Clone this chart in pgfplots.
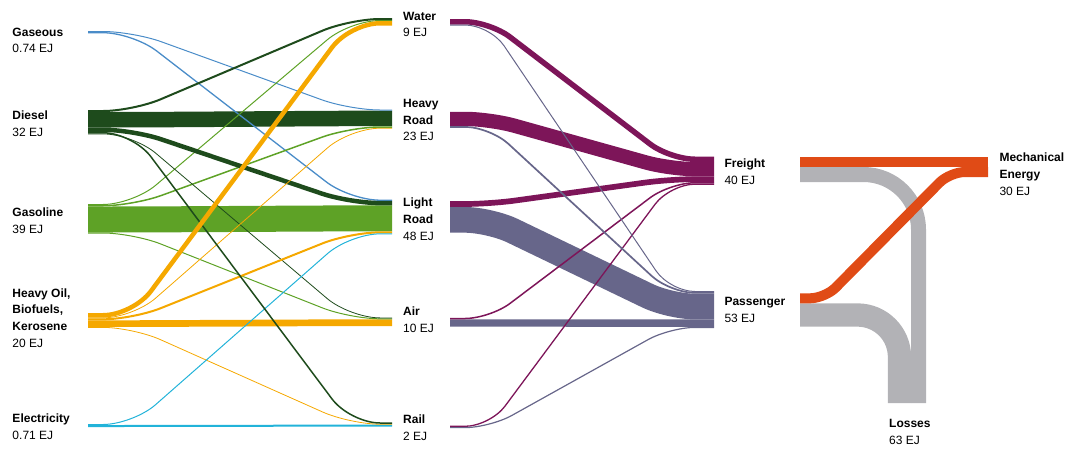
\documentclass[border=0pt]{standalone}
\usepackage{pgfplots}
\pgfplotsset{compat=1.18}
\usepackage{fontspec}
\setmainfont{Liberation Sans}

\definecolor{gasc}{HTML}{4A8CC8}
\definecolor{diec}{HTML}{1E4B1C}
\definecolor{petc}{HTML}{5EA226}
\definecolor{oilc}{HTML}{F5A800}
\definecolor{elec}{HTML}{22B3D9}
\definecolor{frc}{HTML}{7D1559}
\definecolor{pac}{HTML}{67668A}
\definecolor{mec}{HTML}{E04B16}
\definecolor{losc}{HTML}{B2B2B6}

\tikzset{
  flow/.style={line join=round, rounded corners=30pt},
  lab/.style={font=\fontsize{12}{16.8}\selectfont, inner sep=0pt, anchor=base west},
}

\begin{document}
\begin{tikzpicture}
\begin{axis}[
  scale only axis, width=1071pt, height=448pt,
  xmin=0, xmax=1071, ymin=0, ymax=448, y dir=reverse,
  hide axis, clip=false, no markers,
]
% --- fuels -> modes (x 88 -> 392), big straight bands first
\addplot[flow, draw=diec, line width=15.5pt] coordinates {(88,119.75) (133,119.75) (350,118.4) (392,118.4)};
\addplot[flow, draw=petc, line width=26pt] coordinates {(88,219.5) (133,219.5) (350,218.35) (392,218.35)};
\addplot[flow, draw=oilc, line width=6.7pt] coordinates {(88,323.65) (133,323.65) (350,322.65) (392,322.65)};
\addplot[flow, draw=elec, line width=2pt] coordinates {(88,426) (133,426) (350,425.6) (392,425.6)};
% gaseous
\addplot[flow, draw=gasc, line width=1pt] coordinates {(88,31.5) (133,31.5) (350,110) (392,110)};
\addplot[flow, draw=gasc, line width=1.3pt] coordinates {(88,32.7) (133,32.7) (350,200.2) (392,200.2)};
% gasoline
\addplot[flow, draw=petc, line width=1pt] coordinates {(88,204.5) (133,204.5) (350,20.5) (392,20.5)};
\addplot[flow, draw=petc, line width=1.5pt] coordinates {(88,205.75) (133,205.75) (350,127) (392,127)};
\addplot[flow, draw=petc, line width=1pt] coordinates {(88,233) (133,233) (350,318.8) (392,318.8)};
% diesel
\addplot[flow, draw=diec, line width=2pt] coordinates {(88,111) (133,111) (350,19) (392,19)};
\addplot[flow, draw=diec, line width=4.5pt] coordinates {(88,129.75) (133,129.75) (350,203.1) (392,203.1)};
\addplot[flow, draw=diec, line width=0.8pt] coordinates {(88,133.9) (133,133.9) (350,317.9) (392,317.9)};
% heavy oil, biofuels, kerosene
\addplot[flow, draw=oilc, line width=0.8pt] coordinates {(88,317.9) (133,317.9) (350,128.2) (392,128.2)};
\addplot[flow, draw=oilc, line width=2pt] coordinates {(88,319.3) (133,319.3) (350,232.35) (392,232.35)};
\addplot[flow, draw=oilc, line width=0.8pt] coordinates {(88,327.4) (133,327.4) (350,424.2) (392,424.2)};
% electricity
\addplot[flow, draw=elec, line width=1pt] coordinates {(88,424.5) (133,424.5) (350,233.85) (392,233.85)};
\addplot[flow, draw=diec, line width=1.5pt] coordinates {(88,132.75) (133,132.75) (350,423) (392,423)};
\addplot[flow, draw=oilc, line width=4.5pt] coordinates {(88,315.25) (133,315.25) (350,23.25) (392,23.25)};

% --- modes -> freight / passenger (x 450 -> 714)
\addplot[flow, rounded corners=25pt, draw=pac, line width=25.7pt] coordinates {(450,219.85) (490,219.85) (670,306.55) (714,306.55)};
\addplot[flow, rounded corners=25pt, draw=pac, line width=7.4pt] coordinates {(450,323) (490,323) (670,323.1) (714,323.1)};
\addplot[flow, rounded corners=25pt, draw=frc, line width=5.5pt] coordinates {(450,21.75) (490,21.75) (670,159.25) (714,159.25)};
\addplot[flow, rounded corners=25pt, draw=frc, line width=14.3pt] coordinates {(450,118.9) (490,118.9) (670,169.15) (714,169.15)};
\addplot[flow, rounded corners=25pt, draw=frc, line width=5.7pt] coordinates {(450,204) (490,204) (670,179.15) (714,179.15)};
\addplot[flow, rounded corners=25pt, draw=frc, line width=1.5pt] coordinates {(450,318.5) (490,318.5) (670,182.75) (714,182.75)};
\addplot[flow, rounded corners=25pt, draw=frc, line width=1.3pt] coordinates {(450,426.3) (490,426.3) (670,184.15) (714,184.15)};
\addplot[flow, rounded corners=25pt, draw=pac, line width=1pt] coordinates {(450,25) (490,25) (670,291.5) (714,291.5)};
\addplot[flow, rounded corners=25pt, draw=pac, line width=1.7pt] coordinates {(450,126.9) (490,126.9) (670,292.85) (714,292.85)};
\addplot[flow, rounded corners=25pt, draw=pac, line width=1.2pt] coordinates {(450,427.6) (490,427.6) (670,327.4) (714,327.4)};

% --- freight / passenger -> mechanical energy / losses
\addplot[flow, rounded corners=55pt, draw=losc, line width=15pt] coordinates {(800,174.5) (918.5,174.5) (918.5,403)};
\addplot[flow, rounded corners=42pt, draw=losc, line width=23.3pt] coordinates {(800,315) (899.5,315) (899.5,403)};
\addplot[draw=mec, line width=10pt] coordinates {(800,161.8) (988,161.8)};
\addplot[flow, rounded corners=15pt, draw=mec, line width=10pt] coordinates {(800,298.3) (825,298.3) (950,172) (988,172)};

% --- labels
\node[lab] at (axis cs:12.3,36) {\begin{tabular}[t]{@{}l@{}}\textbf{Gaseous}\\0.74 EJ\end{tabular}};
\node[lab] at (axis cs:12.3,119.5) {\begin{tabular}[t]{@{}l@{}}\textbf{Diesel}\\32 EJ\end{tabular}};
\node[lab] at (axis cs:12.3,216.7) {\begin{tabular}[t]{@{}l@{}}\textbf{Gasoline}\\39 EJ\end{tabular}};
\node[lab] at (axis cs:12.3,297) {\begin{tabular}[t]{@{}l@{}}\textbf{Heavy Oil,}\\\textbf{Biofuels,}\\\textbf{Kerosene}\\20 EJ\end{tabular}};
\node[lab] at (axis cs:12.3,422.3) {\begin{tabular}[t]{@{}l@{}}\textbf{Electricity}\\0.71 EJ\end{tabular}};
\node[lab] at (axis cs:403,20) {\begin{tabular}[t]{@{}l@{}}\textbf{Water}\\9 EJ\end{tabular}};
\node[lab] at (axis cs:403,107.3) {\begin{tabular}[t]{@{}l@{}}\textbf{Heavy}\\\textbf{Road}\\23 EJ\end{tabular}};
\node[lab] at (axis cs:403,206.7) {\begin{tabular}[t]{@{}l@{}}\textbf{Light}\\\textbf{Road}\\48 EJ\end{tabular}};
\node[lab] at (axis cs:403,315.7) {\begin{tabular}[t]{@{}l@{}}\textbf{Air}\\10 EJ\end{tabular}};
\node[lab] at (axis cs:403,423.3) {\begin{tabular}[t]{@{}l@{}}\textbf{Rail}\\2 EJ\end{tabular}};
\node[lab] at (axis cs:724.3,167.3) {\begin{tabular}[t]{@{}l@{}}\textbf{Freight}\\40 EJ\end{tabular}};
\node[lab] at (axis cs:724.3,305.7) {\begin{tabular}[t]{@{}l@{}}\textbf{Passenger}\\53 EJ\end{tabular}};
\node[lab] at (axis cs:999.3,161.7) {\begin{tabular}[t]{@{}l@{}}\textbf{Mechanical}\\\textbf{Energy}\\30 EJ\end{tabular}};
\node[lab] at (axis cs:889,427.3) {\begin{tabular}[t]{@{}l@{}}\textbf{Losses}\\63 EJ\end{tabular}};
\end{axis}
% keep the page exactly the size of the axis box
\pgfresetboundingbox
\path[use as bounding box] (current axis.south west) rectangle (current axis.north east);
\end{tikzpicture}
\end{document}
